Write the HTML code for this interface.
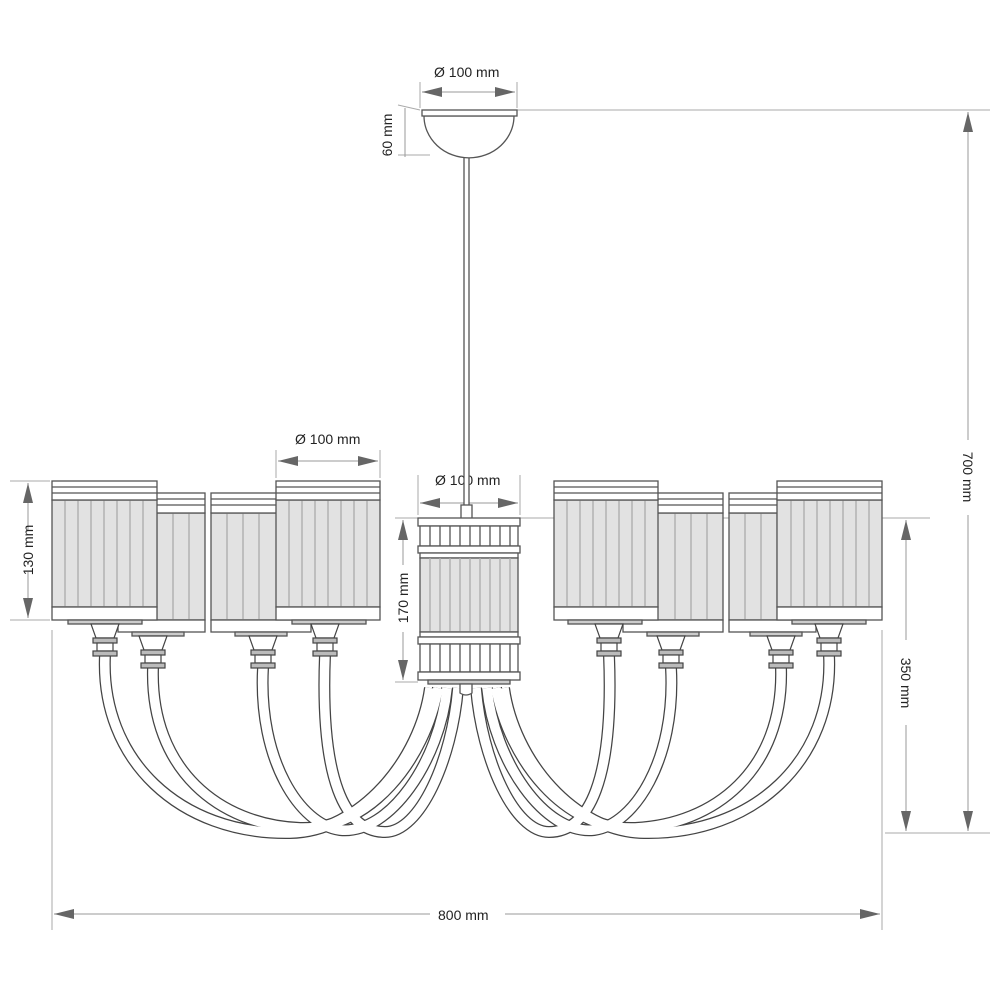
<!DOCTYPE html>
<html><head><meta charset="utf-8"><style>
html,body{margin:0;padding:0;background:#fff;width:1000px;height:1000px;overflow:hidden}
text{font-family:"Liberation Sans",Arial,sans-serif;font-size:14px;fill:#222}
</style></head><body>
<svg width="1000" height="1000" viewBox="0 0 1000 1000" xmlns="http://www.w3.org/2000/svg">
<defs>
<marker id="ar" viewBox="0 0 20 10" refX="20" refY="5" markerWidth="20" markerHeight="10" markerUnits="userSpaceOnUse" orient="auto-start-reverse"><path d="M0 0L20 5L0 10Z" fill="#666"/></marker>
<g id="holder" stroke="#444" stroke-width="1.2" fill="#fff">
<path d="M-14 0 L14 0 L9 14 L-9 14 Z"/>
<rect x="-12" y="14" width="24" height="5" fill="#bbb"/>
<rect x="-8" y="19" width="16" height="8"/>
<rect x="-12" y="27" width="24" height="5" fill="#bbb"/>
</g>
<g id="half">
<g fill="none" stroke-linecap="butt">
<g stroke="#444" stroke-width="12">
<path d="M105 655 C100 760 180 835 290 833 C360 832 420 760 430 688"/>
<path d="M153 668 C150 770 220 825 300 828 C370 830 425 760 438 688"/>
<path d="M263 668 C258 760 300 825 340 830 C390 835 440 760 447 688"/>
<path d="M325 655 C320 780 345 832 385 832 C420 832 452 760 458 688"/>
</g>
<g stroke="#fff" stroke-width="9.5">
<path d="M105 655 C100 760 180 835 290 833 C360 832 420 760 430 688"/>
<path d="M153 668 C150 770 220 825 300 828 C370 830 425 760 438 688"/>
<path d="M263 668 C258 760 300 825 340 830 C390 835 440 760 447 688"/>
<path d="M325 655 C320 780 345 832 385 832 C420 832 452 760 458 688"/>
</g>
</g>
<g stroke="#555" stroke-width="1.3">
<rect x="140" y="513" width="65" height="107" fill="#e2e2e2"/>
<path d="M157 513V620M173 513V620M189 513V620" stroke="#aaa"/>
<rect x="140" y="493" width="65" height="20" fill="#fff"/>
<path d="M140 499H205M140 505H205"/>
<rect x="118" y="620" width="87" height="12" fill="#fff"/>
<rect x="132" y="632" width="52" height="4" fill="#ccc"/>
<rect x="211" y="513" width="80" height="107" fill="#e2e2e2"/>
<path d="M227 513V620M243 513V620M259 513V620" stroke="#aaa"/>
<rect x="211" y="493" width="80" height="20" fill="#fff"/>
<path d="M211 499H291M211 505H291"/>
<rect x="211" y="620" width="100" height="12" fill="#fff"/>
<rect x="235" y="632" width="52" height="4" fill="#ccc"/>
</g>
<g stroke="#555" stroke-width="1.3">
<rect x="52" y="500" width="105" height="107" fill="#e2e2e2"/>
<path d="M65 500V607M78 500V607M91 500V607M104 500V607M117 500V607M130 500V607M143 500V607" stroke="#aaa"/>
<rect x="52" y="481" width="105" height="19" fill="#fff"/>
<path d="M52 487H157M52 493H157"/>
<rect x="52" y="607" width="105" height="13" fill="#fff"/>
<rect x="68" y="620" width="74" height="4" fill="#ccc"/>
<rect x="276" y="500" width="104" height="107" fill="#e2e2e2"/>
<path d="M289 500V607M302 500V607M315 500V607M328 500V607M341 500V607M354 500V607M367 500V607" stroke="#aaa"/>
<rect x="276" y="481" width="104" height="19" fill="#fff"/>
<path d="M276 487H380M276 493H380"/>
<rect x="276" y="607" width="104" height="13" fill="#fff"/>
<rect x="292" y="620" width="74" height="4" fill="#ccc"/>
</g>
<use href="#holder" x="105" y="624"/>
<use href="#holder" x="153" y="636"/>
<use href="#holder" x="263" y="636"/>
<use href="#holder" x="325" y="624"/>
</g>
</defs>

<g stroke="#aaa" stroke-width="1" fill="none">
<path d="M517 110H990M420 518H930M885 833H990M10 481H50M10 620H50M395 518H418M395 682H418"/>
<path d="M420 82V108M517 82V108M418 475V515M520 475V515M276 450V478M380 450V478M52 630V930M882 630V930"/>
<path d="M398 105L420 110M398 155L430 155"/>
</g>
<g stroke="#999" stroke-width="1" fill="none">
<line x1="422" y1="92" x2="515" y2="92" marker-start="url(#ar)" marker-end="url(#ar)"/>
<line x1="278" y1="461" x2="378" y2="461" marker-start="url(#ar)" marker-end="url(#ar)"/>
<line x1="420" y1="503" x2="518" y2="503" marker-start="url(#ar)" marker-end="url(#ar)"/>
<line x1="54" y1="914" x2="430" y2="914" marker-start="url(#ar)"/>
<line x1="505" y1="914" x2="880" y2="914" marker-end="url(#ar)"/>
<line x1="28" y1="483" x2="28" y2="530" marker-start="url(#ar)"/>
<line x1="28" y1="572" x2="28" y2="618" marker-end="url(#ar)"/>
<line x1="403" y1="520" x2="403" y2="565" marker-start="url(#ar)"/>
<line x1="403" y1="632" x2="403" y2="680" marker-end="url(#ar)"/>
<line x1="968" y1="112" x2="968" y2="440" marker-start="url(#ar)"/>
<line x1="968" y1="515" x2="968" y2="831" marker-end="url(#ar)"/>
<line x1="906" y1="520" x2="906" y2="640" marker-start="url(#ar)"/>
<line x1="906" y1="725" x2="906" y2="831" marker-end="url(#ar)"/>
<line x1="405" y1="108" x2="405" y2="157"/>
</g>
<text x="434" y="77">Ø 100 mm</text>
<text x="295" y="444">Ø 100 mm</text>
<text x="435" y="485">Ø 100 mm</text>
<text x="438" y="920">800 mm</text>
<text transform="translate(392,135) rotate(-90)" text-anchor="middle">60 mm</text>
<text transform="translate(33,550) rotate(-90)" text-anchor="middle">130 mm</text>
<text transform="translate(408,598) rotate(-90)" text-anchor="middle">170 mm</text>
<text transform="translate(963,477) rotate(90)" text-anchor="middle">700 mm</text>
<text transform="translate(901,683) rotate(90)" text-anchor="middle">350 mm</text>

<g stroke="#555" stroke-width="1.3" fill="#fff">
<rect x="464" y="155" width="5" height="355"/>
<path d="M424 116 A43 40 0 0 0 514 116 Z"/>
<rect x="422" y="110" width="95" height="6"/>
<rect x="461" y="505" width="11" height="14"/>
</g>

<use href="#half"/>
<use href="#half" transform="translate(934,0) scale(-1,1)"/>

<g stroke="#555" stroke-width="1.3" fill="#fff">
<rect x="418" y="518" width="102" height="8"/>
<rect x="420" y="526" width="98" height="20"/>
<path d="M430 526V546M440 526V546M450 526V546M460 526V546M470 526V546M480 526V546M490 526V546M500 526V546M510 526V546"/>
<rect x="418" y="546" width="102" height="7"/>
<rect x="420" y="553" width="98" height="5"/>
<rect x="420" y="558" width="98" height="74" fill="#e2e2e2"/>
<path d="M430 558V632M440 558V632M450 558V632M460 558V632M470 558V632M480 558V632M490 558V632M500 558V632M510 558V632" stroke="#aaa"/>
<rect x="420" y="632" width="98" height="5"/>
<rect x="418" y="637" width="102" height="7"/>
<rect x="420" y="644" width="98" height="28"/>
<path d="M430 644V672M440 644V672M450 644V672M460 644V672M470 644V672M480 644V672M490 644V672M500 644V672M510 644V672"/>
<rect x="418" y="672" width="102" height="8"/>
<rect x="428" y="680" width="82" height="4" fill="#ccc"/>
<path d="M460 684 L460 693 Q466 697 472 693 L472 684 Z"/>
</g>
</svg>
</body></html>
